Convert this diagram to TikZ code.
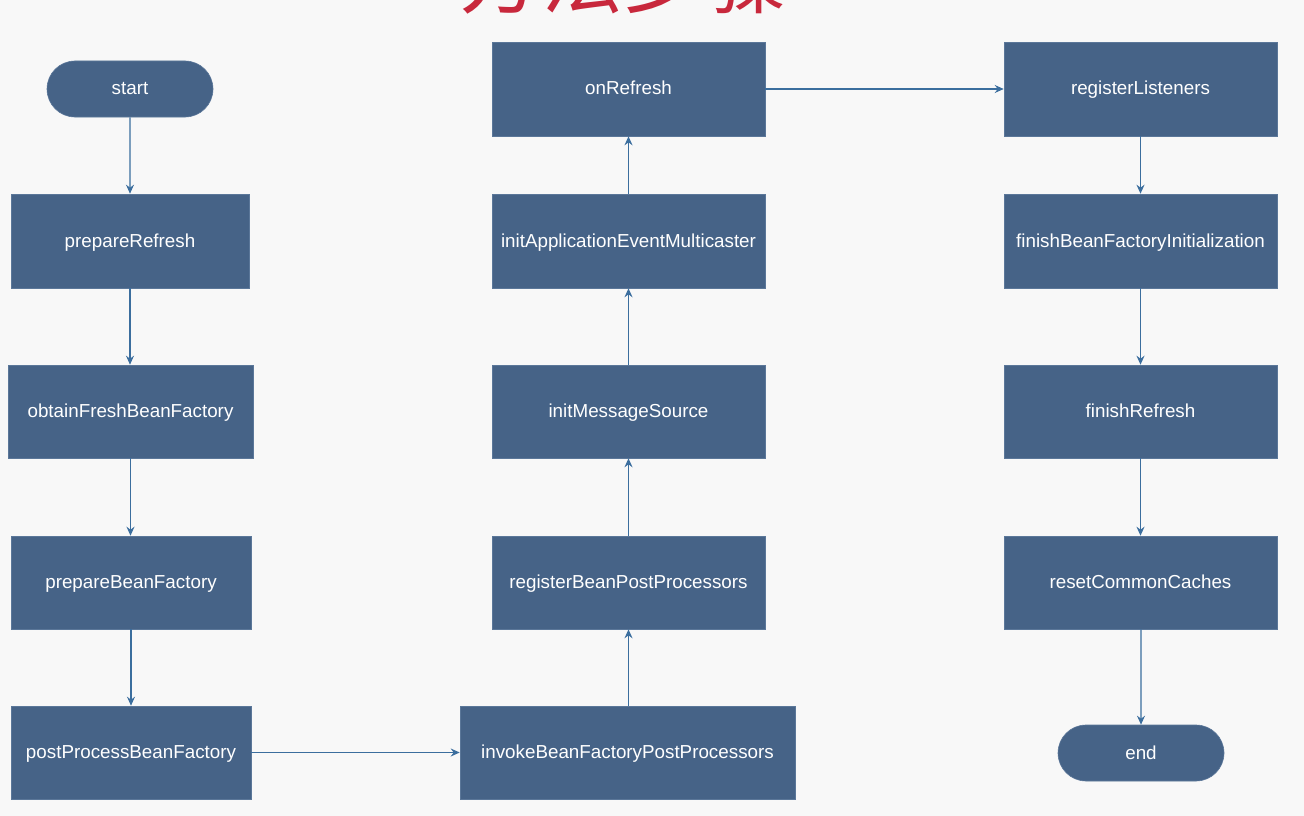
\documentclass[tikz,border=0pt]{standalone}
\usepackage{fontspec}
\setmainfont{Liberation Sans}
\newfontfamily\cjk{Noto Sans CJK SC}
\usetikzlibrary{arrows.meta,shapes.misc}
\definecolor{boxfill}{HTML}{466387}
\definecolor{boxline}{HTML}{5B7799}
\definecolor{arrowc}{HTML}{3B6E9E}
\definecolor{bgc}{HTML}{F8F8F8}
\definecolor{titlered}{HTML}{C8283C}
\tikzset{
  stepbox/.style={draw=boxline, line width=0.6pt, fill=boxfill, text=white, font=\fontsize{18.8}{20}\selectfont, inner sep=0pt, text height=15pt, text depth=3pt, anchor=center},
  termbox/.style={stepbox, rounded rectangle, minimum width=166pt, minimum height=56pt},
  flow/.style={draw=arrowc, line width=1.1pt, -{Stealth[length=9pt,width=8pt,inset=3pt]}}
}
\begin{document}
\begin{tikzpicture}[x=1pt,y=-1pt]
\fill[bgc] (0,0) rectangle (1304,816);
\useasboundingbox (0,0) rectangle (1304,816);
% title, cut off at top edge as in the reference
\node[text=titlered, font=\cjk\fontsize{82}{90}\selectfont, anchor=base] (title) at (623,8) {方法步骤};
% nodes
\newcommand{\bx}[6]{\node[stepbox, minimum width=#4pt, minimum height=#5pt] (#1) at (#2,#3) {#6};}
\node[termbox] (start) at (130,89) {start};
\bx{prep}{130}{241}{238}{94}{prepareRefresh}
\bx{obtain}{130.5}{411.5}{245}{93}{obtainFreshBeanFactory}
\bx{prepbf}{131}{582.5}{240}{93}{prepareBeanFactory}
\bx{postbf}{131}{752.5}{240}{93}{postProcessBeanFactory}
\bx{invoke}{627.5}{752.5}{335}{93}{invokeBeanFactoryPostProcessors}
\bx{regbpp}{628.5}{582.5}{273}{93}{registerBeanPostProcessors}
\bx{initms}{628.5}{411.5}{273}{93}{initMessageSource}
\bx{initaem}{628.5}{241}{273}{94}{initApplicationEventMulticaster}
\bx{onref}{628.5}{89}{273}{94}{onRefresh}
\bx{reglis}{1140.5}{89}{273}{94}{registerListeners}
\bx{finbf}{1140.5}{241}{273}{94}{finishBeanFactoryInitialization}
\bx{finref}{1140.5}{411.5}{273}{93}{finishRefresh}
\bx{reset}{1140.5}{582.5}{273}{93}{resetCommonCaches}
\node[termbox] (end) at (1141,753) {end};
% connectors
\draw[flow] (start) -- (start |- prep.north);
\draw[flow] (prep) -- (prep |- obtain.north);
\draw[flow] (obtain) -- (obtain |- prepbf.north);
\draw[flow] (prepbf) -- (prepbf |- postbf.north);
\draw[flow] (postbf) -- (invoke);
\draw[flow] (invoke.north -| regbpp) -- (regbpp);
\draw[flow] (regbpp) -- (initms);
\draw[flow] (initms) -- (initaem);
\draw[flow] (initaem) -- (onref);
\draw[flow] (onref) -- (reglis);
\draw[flow] (reglis) -- (finbf);
\draw[flow] (finbf) -- (finref);
\draw[flow] (finref) -- (reset);
\draw[flow] (reset.south -| end) -- (end);
\end{tikzpicture}
\end{document}
